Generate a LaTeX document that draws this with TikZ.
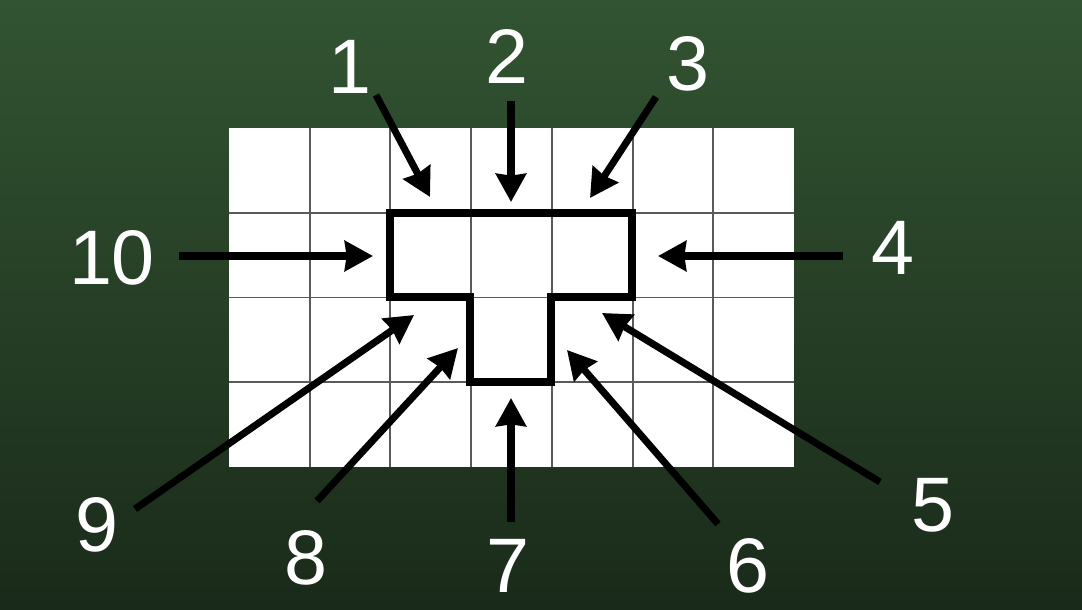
\documentclass[tikz,border=0pt]{standalone}
\usepackage{fontspec}
\setmainfont{Liberation Sans}
\usetikzlibrary{arrows.meta}
\definecolor{boardtop}{RGB}{50,84,50}
\definecolor{boardmid}{RGB}{44,74,44}
\definecolor{boardbot}{RGB}{26,42,26}
\definecolor{gridgray}{RGB}{90,90,90}

\begin{document}
\begin{tikzpicture}[x=0.02cm,y=-0.02cm,
  num/.style={text=white,font=\fontsize{44}{44}\selectfont,inner sep=0pt},
  pointer/.style={-{Stealth[length=16pt,width=17pt,inset=1pt]},line width=4pt,black},
  cellgrid/.style={draw=gridgray,line width=1.1pt},
  outline/.style={draw=black,line width=4.5pt,line join=miter}]
      \useasboundingbox (0,0) rectangle (1082,609);
      \shade[top color=boardtop,middle color=boardmid,bottom color=boardbot] (0,0) rectangle (1082,609);
      % grid of cells
      \fill[white] (229,128) rectangle (794,467);
      \foreach \i in {1,...,6} \draw[cellgrid] ({229+\i*80.714},128) -- ++(0,339);
      \foreach \j in {1,...,3} \draw[cellgrid] (229,{128+\j*84.75}) -- ++(565,0);
      % the T shape
      \draw[outline] (390,213) -- (632,213) -- (632,297) -- (551,297) -- (551,382) -- (470,382) -- (470,297) -- (390,297) -- cycle;
      % labels
      \node[num] (n1) at (350,67) {1};
      \node[num] (n2) at (507,57) {2};
      \node[num] (n3) at (688,64) {3};
      \node[num] (n4) at (893,248) {4};
      \node[num] (n5) at (933,505) {5};
      \node[num] (n6) at (748,566) {6};
      \node[num] (n7) at (508,566) {7};
      \node[num] (n8) at (306,558) {8};
      \node[num] (n9) at (97,525) {9};
      \node[num] (n10) at (112,258) {10};
      % arrow ends
      \coordinate (tail1) at (376,95);   \coordinate (tip1) at (430,197);
      \coordinate (tail2) at (511,101);  \coordinate (tip2) at (511,202);
      \coordinate (tail3) at (656,97);   \coordinate (tip3) at (590,198);
      \coordinate (tail4) at (843,256);  \coordinate (tip4) at (658,256);
      \coordinate (tail5) at (880,482);  \coordinate (tip5) at (602,313);
      \coordinate (tail6) at (718,524);  \coordinate (tip6) at (567,350);
      \coordinate (tail7) at (511,522);  \coordinate (tip7) at (511,398);
      \coordinate (tail8) at (317,501);  \coordinate (tip8) at (458,348);
      \coordinate (tail9) at (135,509);  \coordinate (tip9) at (414,315);
      \coordinate (tail10) at (179,256); \coordinate (tip10) at (373,256);
      \draw[pointer] (tail1)--(tip1);
      \draw[pointer] (tail2)--(tip2);
      \draw[pointer] (tail3)--(tip3);
      \draw[pointer] (tail4)--(tip4);
      \draw[pointer] (tail5)--(tip5);
      \draw[pointer] (tail6)--(tip6);
      \draw[pointer] (tail7)--(tip7);
      \draw[pointer] (tail8)--(tip8);
      \draw[pointer] (tail9)--(tip9);
      \draw[pointer] (tail10)--(tip10);
    \end{tikzpicture}
\end{document}
